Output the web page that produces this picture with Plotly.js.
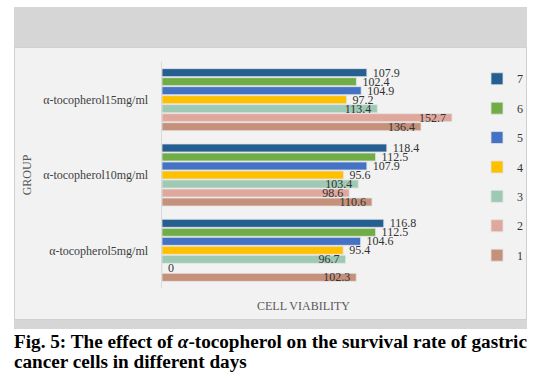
<!DOCTYPE html>
<html>
<head>
<meta charset="utf-8">
<script src="https://cdn.plot.ly/plotly-3.0.1.min.js"></script>
<style>
  html, body { margin: 0; padding: 0; width: 540px; height: 381px; background: #ffffff; overflow: hidden; }
  #frame { position: absolute; left: 14px; top: 7px; width: 513px; height: 322px; background: #d6d6d6; }
  #panel { position: absolute; left: 14px; top: 47px; width: 511px; height: 271px; background: #f2f2f2; border: 1px solid #d0d0d0; }
  #chart { position: absolute; left: 0; top: 0; width: 540px; height: 381px; }
  #caption { position: absolute; left: 14px; top: 332px; width: 526px; font-family: "Liberation Serif", "Times New Roman", serif; font-weight: bold; font-size: 19.2px; line-height: 20px; color: #000; white-space: nowrap; }
</style>
</head>
<body>
<div id="frame"></div>
<div id="panel"></div>
<div id="chart"></div>
<div id="caption">Fig. 5: The effect of <i>α</i>-tocopherol on the survival rate of gastric<br>cancer cells in different days</div>
<script>
// Categories (bottom to top)
const groups = ["α-tocopherol5mg/ml", "α-tocopherol10mg/ml", "α-tocopherol15mg/ml"];
// Series names (days)
const seriesNames = ["1", "2", "3", "4", "5", "6", "7"];
// Values per series, in the order of groups
const day1 = [102.3, 110.6, 136.4];
const day2 = [0, 98.6, 152.7];
const day3 = [96.7, 103.4, 113.4];
const day4 = [95.4, 95.6, 97.2];
const day5 = [104.6, 107.9, 104.9];
const day6 = [112.5, 112.5, 102.4];
const day7 = [116.8, 118.4, 107.9];
const seriesValues = [day1, day2, day3, day4, day5, day6, day7];
const colors = ["#c5917a", "#e0a89c", "#9ec9b4", "#ffc000", "#4472c4", "#70ad47", "#255e91"];
// label placement per series
const labelPos = [
  ["inside", "inside", "inside"],
  ["outside", "inside", "inside"],
  ["inside", "inside", "inside"],
  ["outside", "outside", "outside"],
  ["outside", "outside", "outside"],
  ["outside", "outside", "outside"],
  ["outside", "outside", "outside"]
];
const xTitle = "CELL VIABILITY";
const yTitle = "GROUP";

const NB = "\u00a0";
const serif = "Liberation Serif, Times New Roman, serif";
const traces = seriesValues.map((vals, i) => ({
  type: "bar",
  orientation: "h",
  name: seriesNames[i],
  legendgroup: "g" + i,
  legendrank: 1000 - i,
  y: groups,
  x: vals,
  marker: { color: colors[i], line: { color: "#e3e3e3", width: 0.8 } },
  textposition: labelPos[i],
  texttemplate: labelPos[i].map(p => p === "outside" ? NB + "%{x}" : "%{x}" + NB),
  insidetextanchor: "end",
  textangle: 0,
  constraintext: "none",
  cliponaxis: false,
  textfont: { family: serif, size: 12, color: "#333333" },
  insidetextfont: { family: serif, size: 12, color: "#333333" },
  outsidetextfont: { family: serif, size: 12, color: "#333333" },
  hoverinfo: "skip"
}));

const layout = {
  width: 540,
  height: 381,
  margin: { l: 162, r: 70.5, t: 62, b: 93, pad: 0 },
  paper_bgcolor: "rgba(0,0,0,0)",
  plot_bgcolor: "rgba(0,0,0,0)",
  barmode: "group",
  bargap: 0.163,
  bargroupgap: 0.11,
  font: { family: serif, size: 12, color: "#404040" },
  showlegend: true,
  legend: {
    x: 1.05, xanchor: "left",
    y: 0.99, yanchor: "top",
    traceorder: "grouped",
    tracegroupgap: 10.4,
    font: { family: serif, size: 12, color: "#333333" },
    bgcolor: "rgba(0,0,0,0)"
  },
  xaxis: {
    range: [0, 158],
    showgrid: false,
    zeroline: false,
    showline: false,
    showticklabels: false,
    ticks: "",
    fixedrange: true,
    automargin: false
  },
  yaxis: {
    type: "category",
    showgrid: false,
    zeroline: false,
    showline: true,
    linecolor: "#d9d9d9",
    linewidth: 1.5,
    ticks: "",
    ticklabelstandoff: 10,
    automargin: false,
    fixedrange: true,
    tickfont: { family: serif, size: 12, color: "#404040" },
    title: { text: yTitle, font: { family: serif, size: 12, color: "#595959" }, standoff: 9 }
  },
  annotations: [{
    text: xTitle,
    xref: "paper", yref: "paper",
    x: 0.4715, y: -0.0796,
    xanchor: "center", yanchor: "middle",
    showarrow: false,
    font: { family: serif, size: 12, color: "#595959" }
  }]
};

Plotly.newPlot("chart", traces, layout, { staticPlot: true, displayModeBar: false });
</script>
</body>
</html>
